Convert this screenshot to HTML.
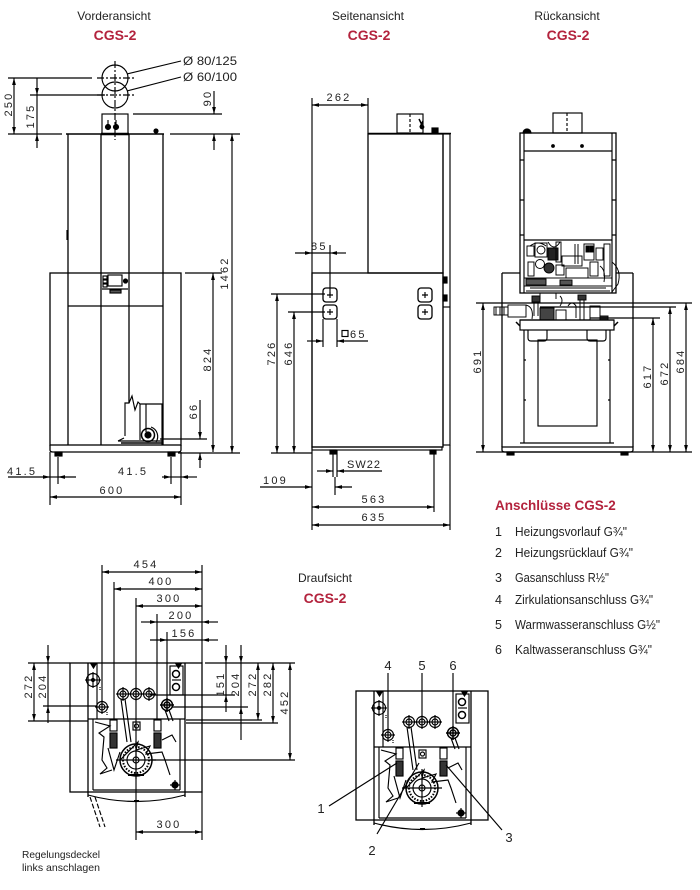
<!DOCTYPE html>
<html><head><meta charset="utf-8"><style>
html,body{margin:0;padding:0;background:#fff;}
svg{display:block;}
text{font-family:"Liberation Sans","DejaVu Sans",sans-serif;fill:#222;stroke:none;}
.d{font-size:11px;letter-spacing:2.2px;}
.t{font-size:12px;}
.r{fill:#b3233d;font-size:14px;font-weight:bold;}
.l{font-size:12px;}
</style></head><body>
<svg width="700" height="890" viewBox="0 0 700 890" xmlns="http://www.w3.org/2000/svg">
<defs>
<marker id="a" markerWidth="8" markerHeight="6" refX="7" refY="2.5" orient="auto-start-reverse" markerUnits="userSpaceOnUse"><path d="M0,0.6 L7,2.5 L0,4.4z" fill="#000"/></marker>
<g id="fit"><circle r="5.5"/><circle r="3"/><line x1="-7" y1="0" x2="7" y2="0"/><line x1="0" y1="-7" x2="0" y2="7"/></g>
<g id="tv" stroke="#000" fill="none" stroke-width="1.15">
  <rect x="70" y="663" width="132" height="129" stroke-width="1.3"/>
  <line x1="88" y1="663" x2="88" y2="797" stroke-width="1.3"/>
  <line x1="185" y1="663" x2="185" y2="797" stroke-width="1.3"/>
  <line x1="93" y1="719" x2="93" y2="790"/>
  <line x1="180" y1="719" x2="180" y2="790"/>
  <line x1="97" y1="663" x2="97" y2="719"/>
  <line x1="88" y1="719" x2="185" y2="719" stroke-width="1.3"/>
  <line x1="93" y1="790" x2="180" y2="790" stroke-width="1.3"/>
  <path d="M88,795 Q136,808 185,795"/>
  <line x1="134" y1="801" x2="139" y2="801" stroke-width="2"/>
  <path d="M91,664 L96,664 L93.5,668z" fill="#000"/>
  <path d="M176,664 L181,664 L178.5,668z" fill="#000"/>
  <rect x="170" y="666" width="13" height="29"/>
  <circle cx="176" cy="674" r="3.5" stroke-width="1.5"/>
  <circle cx="176" cy="687" r="3.5" stroke-width="1.5"/>
  <line x1="172" y1="680" x2="181" y2="680"/>
  <g transform="translate(93,680)"><circle r="6.5"/><line x1="-8" y1="0" x2="8" y2="0"/><line x1="0" y1="-8" x2="0" y2="8"/><circle r="1.5" fill="#000"/></g>
  <use href="#fit" x="102" y="707"/>
  <use href="#fit" x="123" y="694"/>
  <use href="#fit" x="136" y="694"/>
  <use href="#fit" x="149" y="694"/>
  <use href="#fit" x="167" y="705" stroke-width="1.5"/>
  <line x1="107" y1="712" x2="107" y2="716" stroke-dasharray="1,1"/>
  <line x1="100" y1="687" x2="100" y2="690" stroke-dasharray="1,1"/>
  <path d="M121,699 L127,742 M125,699 L131,742"/>
  <path d="M165,710 L169,721 M169,710 L173,721"/>
  <rect x="110" y="720" width="7" height="11"/>
  <rect x="110" y="733" width="7" height="15" fill="#333"/>
  <rect x="154" y="720" width="7" height="11"/>
  <rect x="154" y="733" width="7" height="15" fill="#333"/>
  <rect x="133" y="722" width="7" height="8"/>
  <circle cx="136.5" cy="726" r="2"/>
  <path d="M95,722 L110,726 L99,733 L104,737 L102,760 L107,768 L100,774 L112,770"/>
  <path d="M108,748 L114,770 L120,752"/>
  <path d="M120,760 L138,742 L136,750 L150,746 L146,754 L162,752 L165,760 L170,775"/>
  <path d="M162,740 L172,735 L176,742"/>
  <circle cx="136" cy="760" r="16" stroke-width="1.5"/>
  <circle cx="136" cy="760" r="13" stroke-dasharray="1.5,1.5" stroke-width="2"/>
  <circle cx="136" cy="760" r="9"/>
  <circle cx="136" cy="760" r="3"/>
  <line x1="116" y1="760" x2="156" y2="760"/>
  <line x1="136" y1="741" x2="136" y2="779"/>
  <path d="M128,775 L144,775" stroke-width="2"/>
  <g transform="translate(175,785)"><circle r="3" fill="#000"/><line x1="-5" y1="0" x2="5" y2="0"/><line x1="0" y1="-5" x2="0" y2="5"/></g>
</g>
</defs>

<!-- ===== TITLES ===== -->
<text x="114" y="20" text-anchor="middle" class="t">Vorderansicht</text>
<text x="115" y="40" text-anchor="middle" class="r">CGS-2</text>
<text x="368" y="20" text-anchor="middle" class="t">Seitenansicht</text>
<text x="369" y="40" text-anchor="middle" class="r">CGS-2</text>
<text x="567" y="20" text-anchor="middle" class="t">Rückansicht</text>
<text x="568" y="40" text-anchor="middle" class="r">CGS-2</text>
<text x="325" y="582" text-anchor="middle" class="t">Draufsicht</text>
<text x="325" y="603" text-anchor="middle" class="r">CGS-2</text>

<g stroke="#000" stroke-width="1.15" fill="none">

<!-- ===== FRONT VIEW ===== -->
<circle cx="115" cy="78" r="13"/>
<circle cx="115" cy="95" r="13"/>
<line x1="115" y1="61" x2="115" y2="140" stroke-dasharray="7,2,2,2"/>
<line x1="97" y1="78" x2="134" y2="78" stroke-dasharray="7,2,2,2"/>
<line x1="97" y1="95" x2="134" y2="95" stroke-dasharray="7,2,2,2"/>
<line x1="127" y1="74" x2="181" y2="61"/>
<line x1="127" y1="91" x2="181" y2="77"/>

<line x1="8" y1="78" x2="92" y2="78"/>
<line x1="14" y1="78" x2="14" y2="134" marker-start="url(#a)" marker-end="url(#a)"/>
<line x1="30" y1="95" x2="105" y2="95"/>
<line x1="37" y1="78" x2="37" y2="95" marker-end="url(#a)"/>
<line x1="37" y1="148" x2="37" y2="134" marker-end="url(#a)"/>
<line x1="37" y1="95" x2="37" y2="134"/>
<line x1="8" y1="134" x2="62" y2="134"/>

<line x1="66" y1="134" x2="164" y2="134" stroke-width="1.4"/>
<line x1="101" y1="134" x2="129" y2="134" stroke-width="2.5"/>
<rect x="102" y="114" width="26" height="20"/>
<circle cx="108" cy="127" r="2.5" fill="#000"/>
<circle cx="116" cy="127" r="2.5" fill="#000"/>
<line x1="108" y1="120" x2="108" y2="127"/>
<line x1="116" y1="120" x2="116" y2="127"/>
<circle cx="156" cy="131" r="2" fill="#000"/>
<line x1="68" y1="134" x2="68" y2="445" stroke-width="1.3"/>
<line x1="163" y1="134" x2="163" y2="445" stroke-width="1.3"/>
<line x1="101" y1="134" x2="101" y2="445" stroke-width="1.3"/>
<line x1="129" y1="134" x2="129" y2="403" stroke-width="1.3"/>
<line x1="67" y1="230" x2="67" y2="240"/>

<line x1="170" y1="134" x2="240" y2="134"/>
<line x1="133" y1="114" x2="222" y2="114"/>
<line x1="214" y1="91" x2="214" y2="114" marker-end="url(#a)"/>
<line x1="214" y1="150" x2="214" y2="134" marker-end="url(#a)"/>
<line x1="232" y1="134" x2="232" y2="453" marker-start="url(#a)" marker-end="url(#a)"/>

<rect x="50" y="273" width="131" height="172" stroke-width="1.3"/>
<path d="M50,445 L50,450 Q50,452 53,452 L178,452 Q181,452 181,450 L181,445" stroke-width="1.3"/>
<rect x="55" y="452" width="7" height="4" fill="#000"/>
<rect x="168" y="452" width="7" height="4" fill="#000"/>
<line x1="68" y1="306" x2="163" y2="306"/>
<rect x="103" y="276" width="4" height="3"/>
<rect x="103" y="280" width="4" height="3"/>
<rect x="103" y="284" width="4" height="3"/>
<rect x="108" y="275" width="14" height="11"/>
<circle cx="125.5" cy="281" r="2" fill="#000"/>
<line x1="102" y1="289" x2="128" y2="289"/>
<rect x="110" y="290" width="11" height="3" fill="#555"/>

<line x1="185" y1="273" x2="222" y2="273"/>
<line x1="213" y1="273" x2="213" y2="452" marker-start="url(#a)" marker-end="url(#a)"/>
<line x1="160" y1="439" x2="207" y2="439"/>
<line x1="200" y1="400" x2="200" y2="439" marker-end="url(#a)"/>
<line x1="200" y1="468" x2="200" y2="453" marker-end="url(#a)"/>
<line x1="178" y1="453" x2="240" y2="453"/>

<!-- burner cutaway -->
<path d="M125,436 L125,403 L129,403 L132,396 L135,410 L138,402 L140,404 L162,404 L162,445"/>
<line x1="140" y1="404" x2="140" y2="440"/>
<line x1="146" y1="404" x2="146" y2="432"/>
<circle cx="148" cy="435" r="6.5" stroke-width="1.5"/>
<circle cx="148" cy="435" r="3" fill="#000"/>
<path d="M151,427 A10,10 0 0 1 156,442"/>
<line x1="118" y1="441" x2="163" y2="441"/>
<line x1="121" y1="443" x2="163" y2="443" stroke-width="1.5"/>
<line x1="118" y1="441" x2="124" y2="438"/>

<line x1="8" y1="477" x2="50" y2="477" marker-end="url(#a)"/>
<line x1="76" y1="477" x2="58" y2="477" marker-end="url(#a)"/>
<line x1="50" y1="477" x2="58" y2="477"/>
<line x1="58" y1="457" x2="58" y2="484"/>
<line x1="162" y1="477" x2="171" y2="477" marker-end="url(#a)"/>
<line x1="197" y1="477" x2="181" y2="477" marker-end="url(#a)"/>
<line x1="171" y1="477" x2="181" y2="477"/>
<line x1="171" y1="457" x2="171" y2="484"/>
<line x1="50" y1="452" x2="50" y2="505"/>
<line x1="181" y1="452" x2="181" y2="505"/>
<line x1="50" y1="497" x2="181" y2="497" marker-start="url(#a)" marker-end="url(#a)"/>

<!-- ===== SIDE VIEW ===== -->
<line x1="312" y1="98" x2="312" y2="530"/>
<line x1="368" y1="98" x2="368" y2="134"/>
<line x1="312" y1="105" x2="368" y2="105" marker-start="url(#a)" marker-end="url(#a)"/>
<rect x="368" y="134" width="75" height="139" stroke-width="1.3"/>
<line x1="368" y1="133.5" x2="451" y2="133.5" stroke-width="1.5"/>
<rect x="443" y="134" width="7" height="311"/>
<rect x="443" y="277" width="4" height="6" fill="#000"/>
<rect x="443" y="295" width="4" height="6" fill="#000"/>
<line x1="450" y1="307" x2="443" y2="307"/>
<rect x="397" y="114" width="26" height="19"/>
<line x1="410" y1="114" x2="410" y2="133" stroke-dasharray="3,2"/>
<path d="M419,119 L422,125 M423,121 L420,127" stroke-width="1.5"/>
<circle cx="422" cy="127" r="1.8" fill="#000"/>
<rect x="432" y="128" width="6" height="5" fill="#000"/>
<rect x="312" y="273" width="131" height="174" stroke-width="1.3"/>
<rect x="312" y="447" width="130" height="3"/>
<rect x="330" y="450" width="6" height="4" fill="#000"/>
<rect x="430" y="450" width="6" height="4" fill="#000"/>
<rect x="323" y="288" width="14" height="14" rx="3" stroke-width="1.3"/>
<rect x="323" y="305" width="14" height="14" rx="3" stroke-width="1.3"/>
<rect x="418" y="288" width="14" height="14" rx="3" stroke-width="1.3"/>
<rect x="418" y="305" width="14" height="14" rx="3" stroke-width="1.3"/>
<path d="M327,295 h6 M330,292 v6 M327,312 h6 M330,309 v6 M422,295 h6 M425,292 v6 M422,312 h6 M425,309 v6"/>
<line x1="295" y1="253" x2="312" y2="253" marker-end="url(#a)"/>
<line x1="346" y1="253" x2="330" y2="253" marker-end="url(#a)"/>
<line x1="312" y1="253" x2="330" y2="253"/>
<line x1="330" y1="245" x2="330" y2="295"/>
<line x1="307" y1="341" x2="323" y2="341" marker-end="url(#a)"/>
<line x1="368" y1="341" x2="337" y2="341" marker-end="url(#a)"/>
<line x1="323" y1="319" x2="323" y2="347"/>
<line x1="337" y1="319" x2="337" y2="347"/>
<rect x="342" y="330.5" width="6" height="6"/>
<line x1="271" y1="294" x2="325" y2="294"/>
<line x1="277" y1="294" x2="277" y2="453" marker-start="url(#a)" marker-end="url(#a)"/>
<line x1="288" y1="312" x2="325" y2="312"/>
<line x1="294" y1="312" x2="294" y2="453" marker-start="url(#a)" marker-end="url(#a)"/>
<line x1="271" y1="453" x2="312" y2="453"/>
<line x1="333" y1="450" x2="333" y2="477"/>
<line x1="337" y1="450" x2="337" y2="477"/>
<line x1="335" y1="477" x2="335" y2="495"/>
<line x1="317" y1="471" x2="333" y2="471" marker-end="url(#a)"/>
<line x1="382" y1="471" x2="337" y2="471" marker-end="url(#a)"/>
<line x1="260" y1="487" x2="312" y2="487" marker-end="url(#a)"/>
<line x1="352" y1="487" x2="335" y2="487" marker-end="url(#a)"/>
<line x1="434" y1="452" x2="434" y2="512"/>
<line x1="312" y1="507" x2="434" y2="507" marker-start="url(#a)" marker-end="url(#a)"/>
<line x1="450" y1="445" x2="450" y2="530"/>
<line x1="312" y1="525" x2="450" y2="525" marker-start="url(#a)" marker-end="url(#a)"/>

<!-- ===== REAR VIEW ===== -->
<rect x="520" y="133" width="96" height="160" stroke-width="1.3"/>
<line x1="524" y1="133" x2="524" y2="293"/>
<line x1="612" y1="133" x2="612" y2="293"/>
<line x1="524" y1="151" x2="612" y2="151" stroke-width="1.3"/>
<circle cx="553" cy="146" r="1.3" fill="#000"/>
<circle cx="582" cy="146" r="1.3" fill="#000"/>
<path d="M523,133 A4,4 0 0 1 531,133z" fill="#000"/>
<rect x="553" y="113" width="29" height="20"/>
<line x1="567" y1="113" x2="567" y2="133" stroke-dasharray="3,2"/>
<path d="M520,160 h4 M520,200 h4 M520,235 h4 M612,160 h4 M612,200 h4 M612,235 h4"/>
<line x1="524" y1="240" x2="612" y2="240"/>
<g stroke-width="0.95">
<rect x="527" y="246" width="7" height="10"/>
<rect x="535" y="243" width="12" height="14"/>
<circle cx="541" cy="250" r="4"/>
<rect x="548" y="248" width="10" height="12" fill="#222"/>
<rect x="556" y="242" width="5" height="20"/>
<path d="M530,246 q8,-6 16,0 M548,242 q6,10 12,0"/>
<rect x="562" y="256" width="20" height="10"/>
<rect x="584" y="244" width="10" height="16"/>
<rect x="586" y="246" width="3" height="6" fill="#000"/>
<rect x="590" y="246" width="3" height="6" fill="#000"/>
<rect x="596" y="248" width="7" height="12"/>
<rect x="604" y="244" width="6" height="32"/>
<circle cx="540" cy="264" r="4.5"/>
<circle cx="549" cy="268" r="5" fill="#333"/>
<rect x="528" y="262" width="6" height="14"/>
<rect x="556" y="265" width="8" height="10"/>
<rect x="566" y="268" width="22" height="10"/>
<rect x="590" y="262" width="8" height="14"/>
<path d="M575,244 v20 M578,244 v20 M600,266 q6,4 4,16"/>
<rect x="524" y="278" width="88" height="8"/>
<rect x="526" y="279" width="20" height="6" fill="#555"/>
<rect x="560" y="280" width="12" height="5" fill="#555"/>
<path d="M530,288 h76 M526,291 h84"/>
<path d="M612,262 q10,8 6,22 l-6,8"/>
</g>
<line x1="502" y1="273" x2="520" y2="273" stroke-width="1.3"/>
<line x1="616" y1="273" x2="633" y2="273" stroke-width="1.3"/>
<line x1="502" y1="273" x2="502" y2="447" stroke-width="1.3"/>
<line x1="633" y1="273" x2="633" y2="447" stroke-width="1.3"/>
<path d="M502,447 L502,450 Q502,452 505,452 L630,452 Q633,452 633,450 L633,447 Z" stroke-width="1.3"/>
<rect x="507" y="452" width="7" height="3" fill="#000"/>
<rect x="621" y="452" width="7" height="3" fill="#000"/>
<!-- pipes -->
<g stroke-width="0.95">
<rect x="494" y="307" width="14" height="8"/>
<path d="M496,307 v8 M500,307 v8 M504,307 v8"/>
<rect x="508" y="305" width="18" height="12"/>
<path d="M526,305 q8,2 6,14 M534,296 v20 M538,296 v20"/>
<rect x="532" y="296" width="8" height="6" fill="#333"/>
<rect x="540" y="308" width="14" height="12" fill="#444"/>
<rect x="556" y="310" width="10" height="10"/>
<path d="M568,306 q4,-6 8,0 v12 M580,300 v20 M584,300 v20"/>
<rect x="578" y="295" width="8" height="5" fill="#333"/>
<rect x="590" y="306" width="10" height="14"/>
<rect x="600" y="316" width="8" height="4" fill="#333"/>
<path d="M540,293 v6 M556,293 v6 M560,296 q4,4 0,10"/>
<line x1="520" y1="320" x2="614" y2="320" stroke-width="1.3"/>
</g>
<rect x="520" y="320" width="94" height="10" stroke-width="1.2"/>
<path d="M516,322 l4,4 M618,322 l-4,4" stroke-width="1.5"/>
<line x1="524" y1="330" x2="524" y2="443"/>
<line x1="610" y1="330" x2="610" y2="443"/>
<line x1="520" y1="443" x2="614" y2="443"/>
<path d="M528,330 v8 q0,3 3,3 h13 q3,0 3,-3 v-8"/>
<path d="M587,330 v8 q0,3 3,3 h13 q3,0 3,-3 v-8"/>
<rect x="538" y="340" width="59" height="86"/>
<path d="M524,360 h2 M524,400 h2 M608,360 h2 M608,400 h2"/>

<line x1="476" y1="303" x2="692" y2="303"/>
<line x1="540" y1="307" x2="676" y2="307"/>
<line x1="590" y1="318" x2="660" y2="318"/>
<line x1="476" y1="452" x2="692" y2="452"/>
<line x1="483" y1="303" x2="483" y2="452" marker-start="url(#a)" marker-end="url(#a)"/>
<line x1="653" y1="318" x2="653" y2="452" marker-start="url(#a)" marker-end="url(#a)"/>
<line x1="670" y1="307" x2="670" y2="452" marker-start="url(#a)" marker-end="url(#a)"/>
<line x1="686" y1="303" x2="686" y2="452" marker-start="url(#a)" marker-end="url(#a)"/>

<!-- ===== TOP VIEW LEFT ===== -->
<use href="#tv"/>
<line x1="102" y1="565" x2="102" y2="702"/>
<line x1="114" y1="582" x2="114" y2="720"/>
<line x1="136" y1="598" x2="136" y2="840"/>
<line x1="157" y1="614" x2="157" y2="720"/>
<line x1="167" y1="632" x2="167" y2="700"/>
<line x1="202" y1="565" x2="202" y2="663"/>
<line x1="202" y1="792" x2="202" y2="840"/>
<line x1="102" y1="572" x2="202" y2="572" marker-start="url(#a)" marker-end="url(#a)"/>
<line x1="114" y1="589" x2="202" y2="589" marker-start="url(#a)" marker-end="url(#a)"/>
<line x1="136" y1="606" x2="202" y2="606" marker-start="url(#a)" marker-end="url(#a)"/>
<line x1="141" y1="622" x2="157" y2="622" marker-end="url(#a)"/>
<line x1="218" y1="622" x2="202" y2="622" marker-end="url(#a)"/>
<line x1="157" y1="622" x2="202" y2="622"/>
<line x1="150" y1="640" x2="167" y2="640" marker-end="url(#a)"/>
<line x1="218" y1="640" x2="202" y2="640" marker-end="url(#a)"/>
<line x1="167" y1="640" x2="202" y2="640"/>
<line x1="136" y1="832" x2="202" y2="832" marker-start="url(#a)" marker-end="url(#a)"/>

<line x1="28" y1="663" x2="70" y2="663"/>
<line x1="28" y1="721" x2="88" y2="721"/>
<line x1="43" y1="706" x2="97" y2="706"/>
<line x1="34" y1="663" x2="34" y2="721" marker-start="url(#a)" marker-end="url(#a)"/>
<line x1="48" y1="645" x2="48" y2="663" marker-end="url(#a)"/>
<line x1="48" y1="723" x2="48" y2="706" marker-end="url(#a)"/>
<line x1="48" y1="663" x2="48" y2="706"/>

<line x1="205" y1="663" x2="295" y2="663"/>
<line x1="150" y1="695" x2="235" y2="695"/>
<line x1="172" y1="707" x2="248" y2="707"/>
<line x1="186" y1="720" x2="262" y2="720"/>
<line x1="186" y1="723" x2="278" y2="723"/>
<line x1="150" y1="760" x2="295" y2="760"/>
<line x1="226" y1="645" x2="226" y2="663" marker-end="url(#a)"/>
<line x1="226" y1="712" x2="226" y2="695" marker-end="url(#a)"/>
<line x1="226" y1="663" x2="226" y2="695"/>
<line x1="241" y1="645" x2="241" y2="663" marker-end="url(#a)"/>
<line x1="241" y1="740" x2="241" y2="707" marker-end="url(#a)"/>
<line x1="241" y1="663" x2="241" y2="707"/>
<line x1="258" y1="663" x2="258" y2="720" marker-start="url(#a)" marker-end="url(#a)"/>
<line x1="273" y1="663" x2="273" y2="723" marker-start="url(#a)" marker-end="url(#a)"/>
<line x1="290" y1="663" x2="290" y2="760" marker-start="url(#a)" marker-end="url(#a)"/>

<path d="M90,797 L100,827 M95,797 L105,827" stroke-dasharray="5,2"/>

<!-- ===== TOP VIEW RIGHT ===== -->
<use href="#tv" transform="translate(286,28)"/>
<line x1="388" y1="673" x2="388" y2="729"/>
<line x1="422" y1="673" x2="422" y2="716"/>
<line x1="453" y1="673" x2="453" y2="727"/>
<line x1="329" y1="806" x2="397" y2="763"/>
<line x1="377" y1="834" x2="419" y2="763"/>
<line x1="502" y1="830" x2="446" y2="765"/>
</g>

<!-- ===== TEXT LABELS ===== -->
<text x="183" y="65" class="l" textLength="54" lengthAdjust="spacingAndGlyphs">Ø 80/125</text>
<text x="183" y="81" class="l" textLength="54" lengthAdjust="spacingAndGlyphs">Ø 60/100</text>
<text class="d" text-anchor="middle" transform="translate(12,104) rotate(-90)">250</text>
<text class="d" text-anchor="middle" transform="translate(34,116) rotate(-90)">175</text>
<text class="d" text-anchor="middle" transform="translate(211,98) rotate(-90)">90</text>
<text class="d" text-anchor="middle" transform="translate(228,273) rotate(-90)">1462</text>
<text class="d" text-anchor="middle" transform="translate(211,359) rotate(-90)">824</text>
<text class="d" text-anchor="middle" transform="translate(197,411) rotate(-90)">66</text>
<text x="7" y="475" class="d">41.5</text>
<text x="118" y="475" class="d">41.5</text>
<text x="112" y="494" class="d" text-anchor="middle">600</text>

<text x="339" y="101" class="d" text-anchor="middle">262</text>
<text x="311" y="250" class="d">85</text>
<text x="350" y="338" class="d">65</text>
<text class="d" text-anchor="middle" transform="translate(275,353) rotate(-90)">726</text>
<text class="d" text-anchor="middle" transform="translate(292,353) rotate(-90)">646</text>
<text x="347" y="468" class="d" style="letter-spacing:1px">SW22</text>
<text x="263" y="484" class="d">109</text>
<text x="374" y="503" class="d" text-anchor="middle">563</text>
<text x="374" y="521" class="d" text-anchor="middle">635</text>

<text class="d" text-anchor="middle" transform="translate(481,361) rotate(-90)">691</text>
<text class="d" text-anchor="middle" transform="translate(651,376) rotate(-90)">617</text>
<text class="d" text-anchor="middle" transform="translate(668,373) rotate(-90)">672</text>
<text class="d" text-anchor="middle" transform="translate(684,361) rotate(-90)">684</text>

<text x="146" y="568" class="d" text-anchor="middle">454</text>
<text x="161" y="585" class="d" text-anchor="middle">400</text>
<text x="169" y="602" class="d" text-anchor="middle">300</text>
<text x="181" y="619" class="d" text-anchor="middle">200</text>
<text x="184" y="637" class="d" text-anchor="middle">156</text>
<text x="169" y="828" class="d" text-anchor="middle">300</text>
<text class="d" text-anchor="middle" transform="translate(32,686) rotate(-90)">272</text>
<text class="d" text-anchor="middle" transform="translate(46,686) rotate(-90)">204</text>
<text class="d" text-anchor="middle" transform="translate(224,684) rotate(-90)">151</text>
<text class="d" text-anchor="middle" transform="translate(239,684) rotate(-90)">204</text>
<text class="d" text-anchor="middle" transform="translate(256,684) rotate(-90)">272</text>
<text class="d" text-anchor="middle" transform="translate(271,684) rotate(-90)">282</text>
<text class="d" text-anchor="middle" transform="translate(288,702) rotate(-90)">452</text>

<text x="22" y="858" style="font-size:10.5px" textLength="78" lengthAdjust="spacingAndGlyphs">Regelungsdeckel</text>
<text x="22" y="871" style="font-size:10.5px" textLength="78" lengthAdjust="spacingAndGlyphs">links anschlagen</text>

<text x="388" y="670" text-anchor="middle" style="font-size:13px">4</text>
<text x="422" y="670" text-anchor="middle" style="font-size:13px">5</text>
<text x="453" y="670" text-anchor="middle" style="font-size:13px">6</text>
<text x="321" y="813" text-anchor="middle" style="font-size:13px">1</text>
<text x="372" y="855" text-anchor="middle" style="font-size:13px">2</text>
<text x="509" y="842" text-anchor="middle" style="font-size:13px">3</text>

<text x="495" y="510" class="r" style="font-size:13.5px">Anschlüsse CGS-2</text>
<g style="font-size:12.5px">
<text x="495" y="536">1</text><text x="515" y="536" textLength="112" lengthAdjust="spacingAndGlyphs">Heizungsvorlauf G¾"</text>
<text x="495" y="557">2</text><text x="515" y="557" textLength="118" lengthAdjust="spacingAndGlyphs">Heizungsrücklauf G¾"</text>
<text x="495" y="582">3</text><text x="515" y="582" textLength="94" lengthAdjust="spacingAndGlyphs">Gasanschluss R½"</text>
<text x="495" y="604">4</text><text x="515" y="604" textLength="138" lengthAdjust="spacingAndGlyphs">Zirkulationsanschluss G¾"</text>
<text x="495" y="629">5</text><text x="515" y="629" textLength="145" lengthAdjust="spacingAndGlyphs">Warmwasseranschluss G½"</text>
<text x="495" y="654">6</text><text x="515" y="654" textLength="137" lengthAdjust="spacingAndGlyphs">Kaltwasseranschluss G¾"</text>
</g>
</svg>
</body></html>
